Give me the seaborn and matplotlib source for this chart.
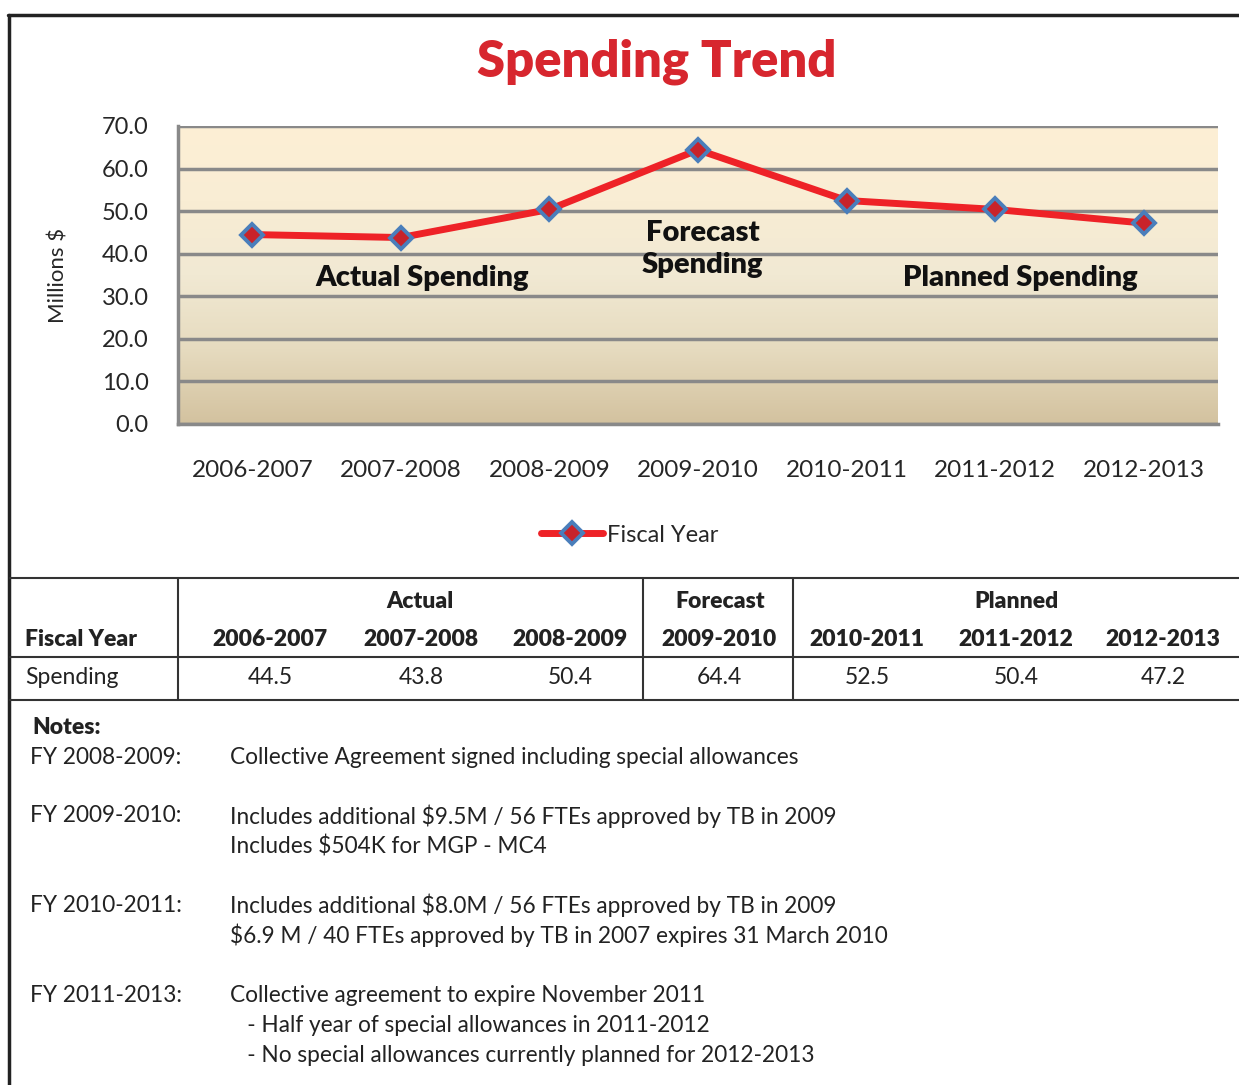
import numpy as np
import pandas as pd
import matplotlib
matplotlib.use("Agg")
import matplotlib.pyplot as plt
from matplotlib.lines import Line2D
from matplotlib.colors import LinearSegmentedColormap
import seaborn as sns

# data
years = ["2006-2007", "2007-2008", "2008-2009", "2009-2010", "2010-2011", "2011-2012", "2012-2013"]
spending = [44.5, 43.8, 50.4, 64.4, 52.5, 50.4, 47.2]
table_values = ["44.5", "43.8", "50.4", "64.4", "52.5", "50.4", "47.2"]
groups = ["Actual", "Forecast", "Planned"]
note_heads = ["FY 2008-2009:", "FY 2009-2010:", "FY 2010-2011:", "FY 2011-2013:"]
note_lines = [
    ["Collective Agreement signed including special allowances"],
    ["Includes additional $9.5M / 56 FTEs approved by TB in 2009",
     "Includes $504K for MGP - MC4"],
    ["Includes additional $8.0M / 56 FTEs approved by TB in 2009",
     "$6.9 M / 40 FTEs approved by TB in 2007 expires 31 March 2010"],
    ["Collective agreement to expire November 2011",
     "   - Half year of special allowances in 2011-2012",
     "   - No special allowances currently planned for 2012-2013"],
]

df = pd.DataFrame({"Year": years, "Spending": spending})

sns.set_style("white")
plt.rcParams["font.family"] = ["Lato", "DejaVu Sans"]

W, H = 1239, 1085
fig = plt.figure(figsize=(W / 100, H / 100), dpi=100)

def fx(x):
    return x / W

def fy(y):
    return 1 - y / H

def hline(y, x0, x1, lw=1.5, c="#333333"):
    fig.add_artist(Line2D([fx(x0), fx(x1)], [fy(y), fy(y)], color=c, lw=lw))

def vline(x, y0, y1, lw=1.5, c="#333333"):
    fig.add_artist(Line2D([fx(x), fx(x)], [fy(y0), fy(y1)], color=c, lw=lw))

# plot area
ax = fig.add_axes([fx(178), fy(424), fx(1218) - fx(178), (424 - 126) / H])

cmap = LinearSegmentedColormap.from_list("bg", ["#D3C29F", "#E6DBBF", "#F1E9D3", "#F9EDD4", "#FDEFD5"])
grad = np.linspace(0, 1, 256).reshape(-1, 1)
ax.imshow(grad, cmap=cmap, origin="lower", aspect="auto",
          extent=(-0.5, 6.5, 0, 70), zorder=0)

sns.lineplot(data=df, x="Year", y="Spending", ax=ax, color="#EE2227", lw=5,
             marker="D", markersize=11, markerfacecolor="#C8232A",
             markeredgecolor="#4A7EBB", markeredgewidth=2.8,
             label="Fiscal Year", zorder=5, sort=False)

ax.set_xlim(-0.5, 6.5)
ax.set_ylim(0, 70)
ax.set_yticks(np.arange(0, 71, 10))
ax.set_yticklabels([f"{v:.1f}" for v in np.arange(0, 71, 10)], fontsize=17)
ax.set_xticks(range(len(years)))
ax.set_xticklabels(years, fontsize=17.5)
ax.set_xticks(np.arange(-0.5, 7, 1), minor=True)
ax.tick_params(axis="x", which="major", length=0, pad=26)
ax.tick_params(axis="x", which="minor", length=7, width=2.5, color="#898989", direction="out")
ax.tick_params(axis="y", length=7, width=2.5, color="#898989", pad=14)
ax.grid(axis="y", color="#898989", lw=2.5, zorder=1)
ax.set_axisbelow(False)
for side in ["top", "right"]:
    ax.spines[side].set_visible(False)
for side in ["left", "bottom"]:
    ax.spines[side].set_color("#898989")
    ax.spines[side].set_linewidth(2.5)
    ax.spines[side].set_zorder(2)
for gl in ax.get_ygridlines():
    gl.set_zorder(1)
ax.set_xlabel("")
ax.set_ylabel("Millions $", fontsize=16, labelpad=24)

ann = dict(ha="center", va="center", fontsize=21, fontweight="heavy", zorder=6, color="#111111")
ax.text(1.14, 34.3, "Actual Spending", **ann)
ax.text(3.03, 41.1, "Forecast\nSpending", linespacing=1.3, **ann)
ax.text(5.17, 34.3, "Planned Spending", **ann)

ax.legend(loc="center", bbox_to_anchor=(fx(630), fy(535)), bbox_transform=fig.transFigure,
          frameon=False, fontsize=17, handlelength=2.6, handletextpad=0.2)

fig.text(fx(657), fy(62), "Spending Trend", ha="center", va="center", fontsize=36.5,
         fontweight="heavy", color="#D7262E")

# outer frame
hline(15, 8, 1239, lw=2.5, c="#222222")
vline(9, 15, 1085, lw=2.5, c="#222222")

# table
hline(578, 10, 1239)
hline(657, 10, 1239)
hline(700, 10, 1239)
for x in [178, 643, 793]:
    vline(x, 578, 700)

bold = dict(ha="center", va="center", fontsize=16.5, fontweight="heavy", color="#222222")
group_x = [420, 720, 1016]
for g, x in zip(groups, group_x):
    fig.text(fx(x), fy(602), g, **bold)
fig.text(fx(25), fy(640), "Fiscal Year", **{**bold, "ha": "left"})
fig.text(fx(25), fy(678), "Spending", ha="left", va="center", fontsize=16.5, color="#222222")
col_x = [270, 421, 570, 719, 867, 1016, 1163]
for x, yr, v in zip(col_x, years, table_values):
    fig.text(fx(x), fy(640), yr, **bold)
    fig.text(fx(x), fy(678), v, ha="center", va="center", fontsize=16.5, color="#222222")

# notes
fig.text(fx(32), fy(727), "Notes:", ha="left", va="center", fontsize=16.5, fontweight="heavy", color="#222222")
note_y = [757, 816, 905, 995]
for head, lines, y in zip(note_heads, note_lines, note_y):
    fig.text(fx(30), fy(y), head, ha="left", va="center", fontsize=16.3, color="#222222")
    for i, line in enumerate(lines):
        fig.text(fx(230), fy(y + 30 * i), line, ha="left", va="center", fontsize=16.3, color="#222222")

fig.savefig("out.png", dpi=100)
